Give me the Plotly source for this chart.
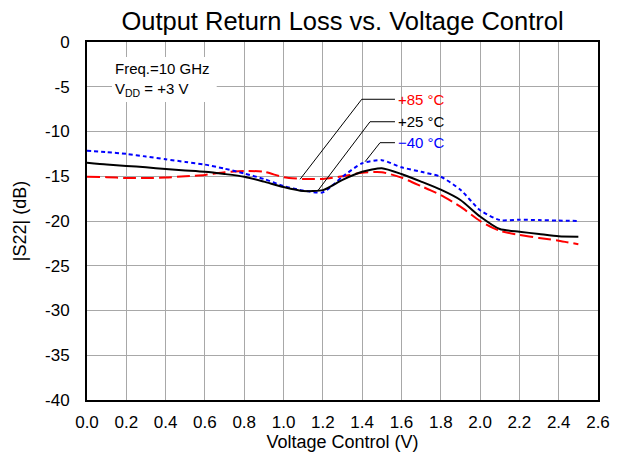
import plotly.graph_objects as go

# Voltage control (V)
v_ctrl = [0.0, 0.1, 0.2, 0.3, 0.4, 0.5, 0.6, 0.7, 0.8, 0.9, 1.0, 1.1, 1.2, 1.3,
          1.4, 1.5, 1.6, 1.7, 1.8, 1.9, 2.0, 2.1, 2.2, 2.3, 2.4, 2.5]

# |S22| (dB) per temperature
s22_p25 = [-13.5, -13.7, -13.85, -14.0, -14.2, -14.35, -14.5, -14.75, -15.05, -15.6,
           -16.2, -16.65, -16.55, -15.4, -14.5, -14.1, -14.75, -15.6, -16.5, -17.65,
           -19.5, -20.9, -21.2, -21.45, -21.7, -21.75]
s22_p85 = [-15.05, -15.1, -15.2, -15.2, -15.15, -15.0, -14.85, -14.55, -14.4, -14.5,
           -15.1, -15.3, -15.3, -15.0, -14.6, -14.55, -15.15, -16.1, -17.1, -18.4,
           -20.0, -21.1, -21.55, -21.9, -22.2, -22.6]
s22_m40 = [-12.15, -12.3, -12.5, -12.8, -13.1, -13.4, -13.7, -14.15, -14.7, -15.3,
           -16.1, -16.6, -16.8, -15.05, -13.55, -13.2, -14.0, -14.5, -15.05, -16.5,
           -18.8, -19.9, -19.85, -19.9, -19.95, -20.0]

x_ticks = [0.0, 0.2, 0.4, 0.6, 0.8, 1.0, 1.2, 1.4, 1.6, 1.8, 2.0, 2.2, 2.4, 2.6]
x_tick_labels = [f"{t:.1f}" for t in x_ticks]
y_ticks = [0, -5, -10, -15, -20, -25, -30, -35, -40]
y_tick_labels = [str(t) for t in y_ticks]

FONT = "Liberation Sans, Arial, Helvetica, sans-serif"

fig = go.Figure()
fig.add_trace(go.Scatter(x=v_ctrl, y=s22_p85, mode="lines", name="+85 °C",
                         line=dict(color="#ff0000", width=2, dash="13px,5px",
                                   shape="spline", smoothing=0.6)))
fig.add_trace(go.Scatter(x=v_ctrl, y=s22_m40, mode="lines", name="−40 °C",
                         line=dict(color="#0000ff", width=2, dash="4px,3px",
                                   shape="spline", smoothing=0.6)))
fig.add_trace(go.Scatter(x=v_ctrl, y=s22_p25, mode="lines", name="+25 °C",
                         line=dict(color="#000000", width=2,
                                   shape="spline", smoothing=0.6)))

# leader lines for the temperature labels
leaders = [
    ((1.084, -15.34), (1.398, -6.40), (1.567, -6.40)),
    ((1.177, -16.54), (1.440, -8.91), (1.567, -8.91)),
    ((1.415, -13.37), (1.491, -11.25), (1.567, -11.25)),
]
for a, b, c in leaders:
    fig.add_shape(type="line", x0=a[0], y0=a[1], x1=b[0], y1=b[1],
                  line=dict(color="black", width=1), layer="above")
    fig.add_shape(type="line", x0=b[0], y0=b[1], x1=c[0], y1=c[1],
                  line=dict(color="black", width=1), layer="above")

labels = [("+85 °C", -6.40, "#ff0000"), ("+25 °C", -8.91, "#000000"),
          ("−40 °C", -11.25, "#0000ff")]
for txt, yy, col in labels:
    fig.add_annotation(x=1.572, y=yy, text=txt, showarrow=False, xanchor="left",
                       yanchor="middle", font=dict(family=FONT, size=15, color=col))

# condition box
fig.add_shape(type="rect", x0=0.127, x1=0.66, y0=-6.7, y1=-1.68,
              fillcolor="white", line=dict(width=0), layer="between")
fig.add_annotation(x=0.13, y=-4.2, text="Freq.=10 GHz<br>V<sub>DD</sub> = +3 V",
                   showarrow=False, xanchor="left", yanchor="middle", align="left",
                   font=dict(family=FONT, size=15, color="black"))

# page body has an 8px default margin, so the figure is sized to fit inside it
W, H = 614, 447
fig.update_layout(
    width=W, height=H, autosize=False,
    margin=dict(l=79, r=24, t=34, b=55, autoexpand=False),
    paper_bgcolor="white", plot_bgcolor="white",
    showlegend=False,
    font=dict(family=FONT, size=17, color="black"),
    title=dict(text="Output Return Loss vs. Voltage Control", x=0.5, xref="paper",
               xanchor="center", y=1 - 13 / H, yref="container", yanchor="middle",
               font=dict(family=FONT, size=25.5, color="black")),
    xaxis=dict(range=[0, 2.6], tickvals=x_ticks, ticktext=x_tick_labels,
               showgrid=True, gridcolor="#a8a8a8", gridwidth=1,
               showline=True, linecolor="black", linewidth=2, mirror=True,
               ticks="", ticklabelstandoff=6, zeroline=False, automargin=False,
               title=dict(text="Voltage Control (V)", font=dict(size=18), standoff=2)),
    yaxis=dict(range=[-40, 0], tickvals=y_ticks, ticktext=y_tick_labels,
               showgrid=True, gridcolor="#a8a8a8", gridwidth=1,
               showline=True, linecolor="black", linewidth=2, mirror=True,
               ticks="", ticklabelstandoff=12, zeroline=False, automargin=False,
               title=dict(text="|S22| (dB)", font=dict(size=18), standoff=14)),
)

fig.write_html("out.html")
